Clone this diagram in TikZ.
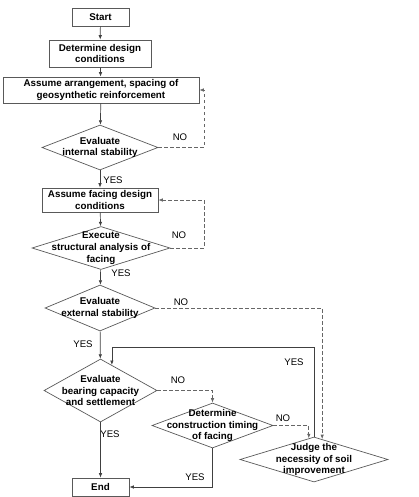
\documentclass[tikz,border=0pt]{standalone}
\usepackage{fontspec}
\setmainfont{Liberation Sans}
\usetikzlibrary{shapes.geometric,arrows.meta,calc}
\begin{document}
\begin{tikzpicture}[
        x=1pt, y=-1pt,
        arr/.style={draw=black!75, line width=0.7pt, -{Latex[length=4.5pt,width=3.5pt]}},
        noarr/.style={arr, dash pattern=on 3.5pt off 2.5pt, draw=black!60},
        procbox/.style={draw=black!65, line width=0.7pt, inner sep=0pt},
        decision/.style={diamond, draw=black!65, line width=0.7pt, inner sep=0pt},
        txt/.style={align=center, font=\fontsize{9.8}{11.8}\selectfont\bfseries, inner sep=0pt},
        ans/.style={font=\fontsize{9.6}{11}\selectfont, inner sep=0pt}
    ]
        \useasboundingbox (0,0) rectangle (419,497);

        % boxes
        \node[procbox, minimum width=57pt, minimum height=18pt] (start) at (100.5,17) {};
        \node[txt] (start-t) at (start) {Start};
        \node[procbox, minimum width=102pt, minimum height=27pt] (cond) at (100,53.5) {};
        \node[txt] (cond-t) at (cond) {Determine design\\conditions};
        \node[procbox, minimum width=196pt, minimum height=26pt] (arrange) at (101,90) {};
        \node[txt] (arrange-t) at (arrange) {Assume arrangement, spacing of\\geosynthetic reinforcement};
        \node[decision, minimum width=116pt, minimum height=45pt] (intst) at (100,147.5) {};
        \node[txt] (intst-t) at (intst) {Evaluate\\internal stability};
        \node[procbox, minimum width=116pt, minimum height=24pt] (facing) at (100,200) {};
        \node[txt] (facing-t) at (facing) {Assume facing design\\conditions};
        \node[decision, minimum width=138pt, minimum height=43pt] (struct) at (101,248) {};
        \node[txt] (struct-t) at (struct) {Execute\\structural analysis of\\facing};
        \node[decision, minimum width=110pt, minimum height=46pt] (extst) at (100,308) {};
        \node[txt] (extst-t) at (extst) {Evaluate\\external stability};
        \node[decision, minimum width=113pt, minimum height=63pt] (bear) at (100.5,390.5) {};
        \node[txt] (bear-t) at (bear) {Evaluate\\bearing capacity\\and settlement};
        \node[decision, minimum width=121pt, minimum height=45pt] (timing) at (212.5,425.5) {};
        \node[txt] (timing-t) at (timing) {Determine\\construction timing\\of facing};
        \node[decision, minimum width=148pt, minimum height=45pt] (judge) at (314,459.5) {};
        \node[txt] (judge-t) at (judge) {Judge the\\necessity of soil\\improvement};
        \node[procbox, minimum width=57pt, minimum height=18pt] (end) at (100.5,487) {};
        \node[txt] (end-t) at (end) {End};

        % answers
        \node[ans] (no1) at (180,137) {NO};
        \node[ans] (yes1) at (113,180) {YES};
        \node[ans] (no2) at (179,235) {NO};
        \node[ans] (yes2) at (121,273) {YES};
        \node[ans] (no3) at (181,302) {NO};
        \node[ans] (yes3) at (83,344) {YES};
        \node[ans] (yes4) at (294,362) {YES};
        \node[ans] (no4) at (178,380) {NO};
        \node[ans] (no5) at (283,418) {NO};
        \node[ans] (yes5) at (110,434) {YES};
        \node[ans] (yes6) at (195,477) {YES};

        \coordinate (judge-in1) at ($(judge.north)!0.07!(judge.west)$);
        \coordinate (judge-in2) at ($(judge.north)!0.11!(judge.east)$);
        \coordinate (bear-in) at ($(bear.north)!0.2!(bear.east)$);

        % main flow
        \draw[arr] (start) -- (cond);
        \draw[arr] (cond) -- (arrange);
        \draw[arr] (arrange) -- (intst);
        \draw[arr] (intst) -- (facing);
        \draw[arr] (facing) -- (struct);
        \draw[arr] (struct) -- (extst);
        \draw[arr] (extst) -- (bear);
        \draw[arr] (bear) -- (end);
        \draw[arr] (timing.south) |- (end.east);
        \draw[arr] (judge.north) -- ++(0,-89.3) -| (bear-in);

        % loops back
        \draw[noarr] (intst.east) -- (204,147.5) |- (arrange.east);
        \draw[noarr] (struct.east) -- (204,248) |- (facing.east);
        \draw[noarr] (extst.east) -| (judge-in2);
        \draw[noarr] (bear.east) -| (timing.north);
        \draw[noarr] (timing.east) -| (judge-in1);
    \end{tikzpicture}
\end{document}
